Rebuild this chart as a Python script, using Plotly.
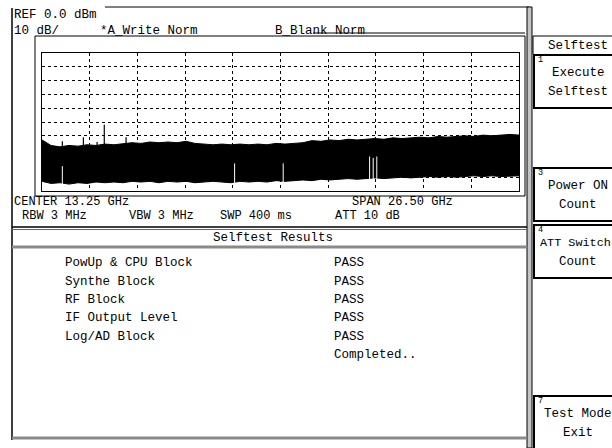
import plotly.graph_objects as go

W, H = 612, 448
FONT = "Liberation Mono"

# ---- sweep data: 0 - 26.5 GHz, REF 0 dBm, 10 dB/div ----
freq_ghz = [0.0, 0.5, 1.0, 1.5, 2.0, 2.5, 3.0, 3.5, 4.0, 4.5, 5.0, 5.5, 6.0, 6.5,
            7.0, 7.5, 8.0, 8.5, 9.0, 9.5, 10.0, 10.5, 11.0, 11.5, 12.0, 12.5, 13.0,
            13.5, 14.0, 14.5, 15.0, 15.5, 16.0, 16.5, 17.0, 17.5, 18.0, 18.5, 19.0,
            19.5, 20.0, 20.5, 21.0, 21.5, 22.0, 22.5, 23.0, 23.5, 24.0, 24.5, 25.0,
            25.5, 26.0, 26.5]
noise_top_dbm = [-63, -67, -68, -67, -67.5, -66.5, -67, -66, -66.5, -65.5, -65, -65.5,
                 -64.5, -65, -64.5, -65, -64, -65.5, -66, -66.5, -66, -66.5, -66, -66.5,
                 -66, -66.5, -65.5, -66, -65.5, -65, -63.5, -64, -63, -63.5, -62.5, -63,
                 -62.5, -62, -62.5, -61.5, -62, -61.5, -61, -61.5, -60.5, -61, -60.5, -60,
                 -60.5, -59.5, -60, -59.5, -59, -59.5]
noise_bottom_dbm = [-93, -94.5, -94, -95, -94, -94.5, -93.5, -94, -93.5, -94, -93, -93.5,
                    -93, -94, -93, -93.5, -93, -94, -93.5, -93, -93.5, -94, -93, -93.5,
                    -93, -93.5, -92.5, -93, -92.5, -92, -92.5, -91.5, -92, -91.5, -91, -91.5,
                    -91, -90.5, -91, -90.5, -90, -90.5, -90, -89.5, -90, -89.5, -90, -89.5,
                    -89, -89.5, -89, -89.5, -89, -89]

# spurious responses rising above the noise
spur_ghz = [1.13, 2.30, 3.06, 3.46, 4.67]
spur_dbm = [-64, -61, -64.5, -52, -61]

# narrow drop-outs inside the noise band
dip_ghz = [1.13, 10.7, 13.4, 18.2, 18.4, 18.6]
dip_dbm = [-82, -80, -80, -75, -76, -75]

# ---- screen text ----
header_lines = ["REF 0.0 dBm", "10 dB/"]
trace_modes = ["*A_Write Norm", "B_Blank Norm"]
center_label = "CENTER 13.25 GHz"
span_label = "SPAN 26.50 GHz"
settings = ["RBW 3 MHz", "VBW 3 MHz", "SWP 400 ms", "ATT 10 dB"]
results_title = "Selftest Results"
test_blocks = ["PowUp & CPU Block", "Synthe Block", "RF Block",
               "IF Output Level", "Log/AD Block", ""]
test_status = ["PASS", "PASS", "PASS", "PASS", "PASS", "Completed.."]
menu_title = "Selftest"
softkeys = [("1", ["Execute", "Selftest"]), ("3", ["Power ON", "Count"]),
            ("4", ["ATT Switch", "Count"]), ("7", ["Test Mode", "Exit"])]


def px(x):
    return x / W


def py(y):
    return 1 - y / H


shapes = []
annotations = []


def line(x0, y0, x1, y1, color="black", width=1):
    shapes.append(dict(type="line", xref="paper", yref="paper",
                       x0=px(x0), y0=py(y0), x1=px(x1), y1=py(y1),
                       line=dict(color=color, width=width)))


def rect(x0, y0, x1, y1, color="black", width=1, fill="rgba(0,0,0,0)"):
    shapes.append(dict(type="rect", xref="paper", yref="paper",
                       x0=px(x0), y0=py(y0), x1=px(x1), y1=py(y1),
                       line=dict(color=color, width=width), fillcolor=fill))


def text(s, x, y, anchor="left", size=12.5):
    annotations.append(dict(text=s, xref="paper", yref="paper", x=px(x), y=py(y),
                            xanchor=anchor, yanchor="middle", showarrow=False,
                            font=dict(family=FONT, size=size, color="black")))


fig = go.Figure()

# noise band: lower edge then upper edge filled to it
fig.add_trace(go.Scatter(x=freq_ghz, y=noise_bottom_dbm, mode="lines",
                         line=dict(color="black", width=1), hoverinfo="skip"))
fig.add_trace(go.Scatter(x=freq_ghz, y=noise_top_dbm, mode="lines", fill="tonexty",
                         fillcolor="black", line=dict(color="black", width=1),
                         hoverinfo="skip"))

sx, sy = [], []
for f, lvl in zip(spur_ghz, spur_dbm):
    sx += [f, f, None]
    sy += [-80, lvl, None]
fig.add_trace(go.Scatter(x=sx, y=sy, mode="lines", line=dict(color="black", width=1.2),
                         hoverinfo="skip"))

dx, dy = [], []
for f, lvl in zip(dip_ghz, dip_dbm):
    dx += [f, f, None]
    dy += [lvl, -99, None]
fig.add_trace(go.Scatter(x=dx, y=dy, mode="lines", line=dict(color="white", width=1),
                         hoverinfo="skip"))

# graticule
grid_x0, grid_x1, grid_y0, grid_y1 = 42, 519, 53, 191
fig.update_xaxes(domain=[px(grid_x0), px(grid_x1)], range=[0, 26.5], tick0=0, dtick=2.65,
                 showgrid=True, gridcolor="black", gridwidth=1, griddash="dot",
                 showticklabels=False, ticks="", zeroline=False,
                 showline=True, mirror=True, linecolor="black", linewidth=1)
fig.update_yaxes(domain=[py(grid_y1), py(grid_y0)], range=[-100, 0], tick0=0, dtick=10,
                 showgrid=True, gridcolor="black", gridwidth=1, griddash="dot",
                 showticklabels=False, ticks="", zeroline=False,
                 showline=True, mirror=True, linecolor="black", linewidth=1)

# ---- screen frames ----
line(105, 7, 529, 7)                 # top edge of display
line(12, 8, 12, 440, width=1.5)      # left edge
rect(527, 7, 532, 448, fill="#c4c4c4")  # divider to the menu column
line(313, 33, 525, 33)
rect(35, 36, 525, 196)               # trace window
line(12, 227, 527, 227, width=1.5)
line(12, 229.5, 527, 229.5, color="#666666", width=1)
line(12, 247, 527, 247, color="#8a8a8a", width=3)
line(12, 438, 527, 438, color="#8a8a8a", width=3)

# ---- spectrum annotations ----
text(header_lines[0], 12, 15)
text(header_lines[1], 12, 31)
text(trace_modes[0], 98, 31)
text(trace_modes[1], 273, 31)
text(center_label, 12, 202, size=12)
text(span_label, 350, 202, size=12)
for s, x in zip(settings, [20, 127, 218, 333]):
    text(s, x, 215.5, size=12)

# ---- results panel ----
text(results_title, 273, 238, anchor="center")
row_y = [263, 281.5, 300, 318, 336.5, 355]
for name, status, y in zip(test_blocks, test_status, row_y):
    if name:
        text(name, 63, y)
    text(status, 332, y)

# ---- menu column ----
line(533, 36, 625, 36)
line(533, 36, 533, 54)
text(menu_title, 578, 46, anchor="center")
key_tops = {"1": 55, "3": 168, "4": 225, "7": 396}
for num, labels in softkeys:
    top = key_tops[num]
    rect(534, top, 625, top + 53, width=2)
    text(num, 536, top + 5, size=8.5)
    if len(labels[0]) > 9:
        # long label runs from the key's left edge
        text(labels[0], 538, top + 18, size=11.8)
    else:
        text(labels[0], 578, top + 18, anchor="center")
    text(labels[1], 578, top + 37, anchor="center")

fig.update_layout(width=W, height=H, margin=dict(l=0, r=0, t=0, b=0),
                  paper_bgcolor="white", plot_bgcolor="white", showlegend=False,
                  shapes=shapes, annotations=annotations)

fig.write_html("out.html")
